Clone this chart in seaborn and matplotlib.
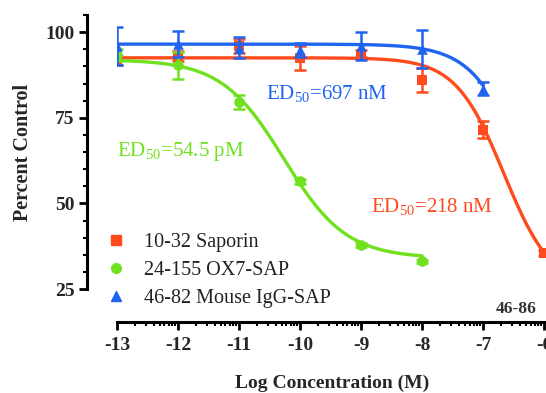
import numpy as np
import pandas as pd
import matplotlib
matplotlib.use("Agg")
import matplotlib.pyplot as plt
from matplotlib.lines import Line2D
import seaborn as sns

# Measured points (log M), percent control and error
names = ["10-32 Saporin", "24-155 OX7-SAP", "46-82 Mouse IgG-SAP"]
colors = ["#FF4A1C", "#6FE11E", "#1F64F0"]
markers = ["s", "o", "^"]

x_sap = [-13, -12, -11, -10, -9, -8, -7, -6]
y_sap = [91.8, 93.0, 96.0, 92.5, 93.7, 86.0, 71.5, 35.5]
e_sap = [1.3, 1.5, 2.0, 3.5, 1.0, 3.5, 2.5, 0.8]

x_ox7 = [-13, -12, -11, -10, -9, -8]
y_ox7 = [93.3, 90.3, 79.7, 56.4, 37.8, 33.1]
e_ox7 = [1.8, 4.0, 2.0, 0.8, 0.5, 0.5]

x_igg = [-13, -12, -11, -10, -9, -8, -7]
y_igg = [96.0, 96.5, 95.5, 94.8, 96.0, 95.0, 83.5]
e_igg = [5.5, 3.8, 3.0, 2.0, 4.0, 5.5, 2.0]

# Fitted curve parameters: top, bottom, log ED50, hill slope, end of curve
top = [92.5, 92.0, 96.5]
bottom = [25.0, 34.0, 0.0]
log_ed50 = [-6.66, -10.264, -6.157]
hill = [1.1, 0.85, 1.0]
curve_end = [-5.9, -8.0, -7.0]

ed50_labels = ["ED$_{50}$=218 nM", "ED$_{50}$=54.5 pM", "ED$_{50}$=697 nM"]

xs = [x_sap, x_ox7, x_igg]
ys = [y_sap, y_ox7, y_igg]
es = [e_sap, e_ox7, e_igg]

pts = pd.concat([pd.DataFrame({"x": a, "y": b, "err": c, "agent": n})
                 for a, b, c, n in zip(xs, ys, es, names)])

curves = []
for i, n in enumerate(names):
    xx = np.linspace(-13, curve_end[i], 300)
    yy = bottom[i] + (top[i] - bottom[i]) / (1 + 10 ** ((xx - log_ed50[i]) * hill[i]))
    curves.append(pd.DataFrame({"x": xx, "y": yy, "agent": n}))
curves = pd.concat(curves)

sns.set_theme(style="ticks")
plt.rcParams["font.family"] = ["Liberation Serif", "DejaVu Serif"]
plt.rcParams["mathtext.fontset"] = "custom"
plt.rcParams["mathtext.rm"] = "Liberation Serif"

fig = plt.figure(figsize=(5.46, 3.93), dpi=100)
ax = fig.add_axes([117 / 546, (393 - 289) / 393, 429.5 / 546, (289 - 15) / 393])

for i, n in enumerate(names):
    sub = pts[pts.agent == n]
    ax.errorbar(sub.x, sub.y, yerr=sub.err, fmt="none", ecolor=colors[i],
                elinewidth=1.8, capsize=4.5, capthick=1.8, zorder=2 + i)
    sns.lineplot(data=curves[curves.agent == n], x="x", y="y", color=colors[i],
                 lw=2.4, ax=ax, zorder=2 + i, legend=False)
    sns.scatterplot(data=sub, x="x", y="y", color=colors[i], marker=markers[i],
                    s=58, edgecolor=colors[i], linewidth=0, ax=ax, zorder=3 + i,
                    legend=False)

ax.set_xlim(-13, -5.96)
ax.set_ylim(25, 105)
sns.despine(ax=ax)
# offsets in points (30 px and 33 px at 100 dpi)
ax.spines["left"].set_position(("outward", 21.6))
ax.spines["bottom"].set_position(("outward", 23.8))
ax.spines["left"].set_bounds(25, 105)
ax.spines["bottom"].set_bounds(-13, -6)
for s in ["left", "bottom"]:
    ax.spines[s].set_linewidth(2.2)
    ax.spines[s].set_color("black")

ax.set_yticks([25, 50, 75, 100])
ax.set_yticks(np.arange(30, 106, 5), minor=True)
ax.set_xticks(np.arange(-13, -5, 1))
minor_x = [d + np.log10(k) for d in range(-13, -6) for k in range(2, 10)]
ax.set_xticks(minor_x, minor=True)
ax.set_xticklabels([str(v) for v in range(-13, -5)])
ax.tick_params(which="major", length=5.8, width=2, color="black", labelsize=14, pad=3)
ax.tick_params(which="minor", length=3.2, width=1.5, color="black")
ax.tick_params(axis="x", which="major", pad=5)
for lab in ax.get_xticklabels() + ax.get_yticklabels():
    lab.set_fontweight("bold")

ax.set_xlabel("Log Concentration (M)", fontsize=14, fontweight="bold", labelpad=15)
ax.set_ylabel("Percent Control", fontsize=14.5, fontweight="bold", labelpad=9)

# ED50 annotations
ax.text(-8.83, 48.8, ed50_labels[0], color=colors[0], fontsize=15, va="center")
ax.text(-13.0, 65.2, ed50_labels[1], color=colors[1], fontsize=15, va="center")
ax.text(-10.55, 81.8, ed50_labels[2], color=colors[2], fontsize=15, va="center")
ax.text(-6.80, 19.2, "46-86", color="#333333", fontsize=12.5, fontweight="bold",
        va="center", clip_on=False)

handles = [Line2D([], [], marker=m, ls="none", color=c, markersize=7)
           for m, c in zip(markers, colors)]
leg = ax.legend(handles, names, loc="upper left", bbox_to_anchor=(-0.045, 0.235),
                frameon=False, fontsize=14.5, handlelength=1.0, handletextpad=0.9,
                labelspacing=0.45, borderaxespad=0)
for t in leg.get_texts():
    t.set_color("#222222")

fig.savefig("out.png", dpi=100)
